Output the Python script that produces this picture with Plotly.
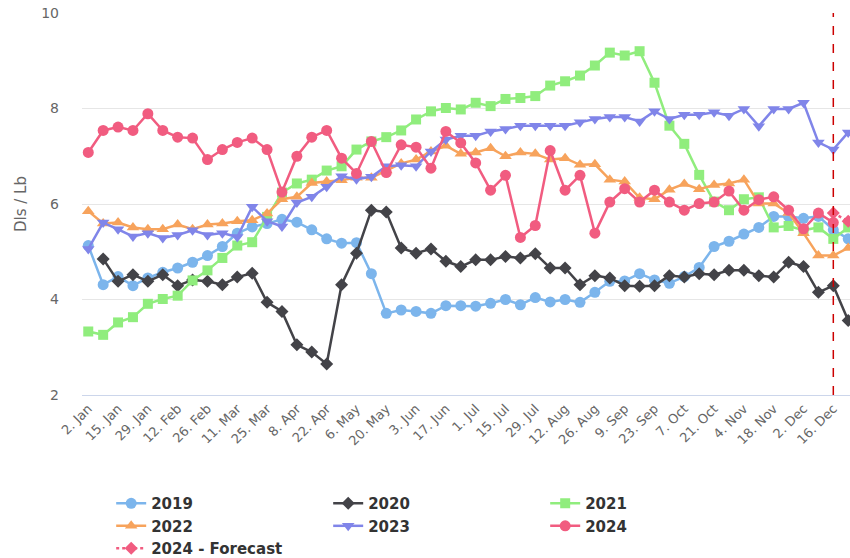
import plotly.graph_objects as go

# weekly categories (2024 calendar), label shown every 2nd week
weeks = ["2. Jan", "8. Jan", "15. Jan", "22. Jan", "29. Jan", "5. Feb", "12. Feb", "19. Feb",
         "26. Feb", "4. Mar", "11. Mar", "18. Mar", "25. Mar", "1. Apr", "8. Apr", "15. Apr",
         "22. Apr", "29. Apr", "6. May", "13. May", "20. May", "27. May", "3. Jun", "10. Jun",
         "17. Jun", "24. Jun", "1. Jul", "8. Jul", "15. Jul", "22. Jul", "29. Jul", "5. Aug",
         "12. Aug", "19. Aug", "26. Aug", "2. Sep", "9. Sep", "16. Sep", "23. Sep", "30. Sep",
         "7. Oct", "14. Oct", "21. Oct", "28. Oct", "4. Nov", "11. Nov", "18. Nov", "25. Nov",
         "2. Dec", "9. Dec", "16. Dec", "23. Dec", "30. Dec"]

y2019 = [5.13, 4.31, 4.48, 4.29, 4.45, 4.57, 4.66, 4.78, 4.92, 5.11, 5.39, 5.52, 5.59, 5.68, 5.62, 5.46,
         5.27, 5.18, 5.19, 4.54, 3.71, 3.78, 3.75, 3.71, 3.87, 3.87, 3.86, 3.92, 4.00, 3.89, 4.04, 3.95,
         4.00, 3.94, 4.15, 4.38, 4.39, 4.54, 4.41, 4.34, 4.48, 4.67, 5.11, 5.22, 5.37, 5.51, 5.74, 5.74,
         5.70, 5.74, 5.46, 5.27]
y2020 = [None, 4.85, 4.38, 4.52, 4.38, 4.52, 4.29, 4.41, 4.38, 4.31, 4.47, 4.55, 3.94, 3.75, 3.05, 2.90,
         2.65, 4.31, 4.97, 5.87, 5.83, 5.08, 4.97, 5.06, 4.80, 4.69, 4.83, 4.83, 4.90, 4.87, 4.96, 4.66,
         4.66, 4.31, 4.50, 4.45, 4.29, 4.28, 4.29, 4.50, 4.47, 4.54, 4.52, 4.61, 4.61, 4.50, 4.47, 4.78,
         4.69, 4.15, 4.29, 3.56]
y2021 = [3.33, 3.26, 3.52, 3.63, 3.91, 4.01, 4.08, 4.40, 4.61, 4.87, 5.13, 5.20, 5.73, 6.24, 6.43, 6.51,
         6.70, 6.79, 7.14, 7.31, 7.40, 7.54, 7.77, 7.94, 8.01, 7.98, 8.12, 8.05, 8.20, 8.22, 8.26, 8.48,
         8.57, 8.69, 8.90, 9.17, 9.11, 9.20, 8.54, 7.64, 7.26, 6.61, 6.05, 5.87, 6.10, 6.14, 5.51, 5.54,
         5.45, 5.51, 5.27, 5.51]
y2022 = [5.85, 5.59, 5.61, 5.51, 5.47, 5.47, 5.57, 5.47, 5.57, 5.59, 5.64, 5.66, 5.80, 6.10, 6.15, 6.44,
         6.47, 6.50, 6.55, 6.55, 6.70, 6.85, 6.93, 7.10, 7.22, 7.05, 7.08, 7.17, 7.00, 7.08, 7.05, 6.93,
         6.96, 6.82, 6.83, 6.51, 6.47, 6.13, 6.10, 6.30, 6.42, 6.31, 6.40, 6.43, 6.51, 6.01, 6.01, 5.81,
         5.39, 4.92, 4.92, 5.08]
y2023 = [5.06, 5.61, 5.47, 5.32, 5.39, 5.29, 5.35, 5.45, 5.35, 5.39, 5.31, 5.94, 5.64, 5.53, 6.03, 6.15,
         6.36, 6.58, 6.52, 6.57, 6.79, 6.81, 6.79, 7.10, 7.35, 7.43, 7.43, 7.52, 7.57, 7.64, 7.64, 7.64,
         7.64, 7.71, 7.78, 7.82, 7.82, 7.73, 7.94, 7.78, 7.87, 7.87, 7.92, 7.85, 7.99, 7.63, 7.99, 7.99,
         8.12, 7.29, 7.14, 7.50]
y2024 = [7.08, 7.54, 7.61, 7.54, 7.89, 7.54, 7.40, 7.38, 6.93, 7.14, 7.29, 7.38, 7.14, 6.25, 7.00, 7.40,
         7.54, 6.96, 6.64, 7.31, 6.66, 7.24, 7.19, 6.75, 7.52, 7.28, 6.86, 6.29, 6.60, 5.30, 5.55, 7.12,
         6.29, 6.60, 5.39, 6.04, 6.32, 6.04, 6.29, 6.04, 5.87, 6.01, 6.04, 6.27, 5.87, 6.09, 6.15, 5.87,
         5.48, 5.81, 5.61]
forecast_weeks = ["16. Dec", "23. Dec"]
y2024_forecast = [5.81, 5.64]
current_week = "16. Dec"

series = [
    ("2019", y2019, "#7cb5ec", "circle", 11),
    ("2020", y2020, "#434348", "diamond", 10),
    ("2021", y2021, "#90ed7d", "square", 10),
    ("2022", y2022, "#f7a35c", "triangle-up", 11),
    ("2023", y2023, "#8085e9", "triangle-down", 11),
    ("2024", y2024, "#f15c80", "circle", 11),
]

fig = go.Figure()

for name, vals, color, symbol, size in series:
    fig.add_trace(go.Scatter(
        x=weeks[:len(vals)], y=vals, name=name, mode="lines+markers",
        line=dict(color=color, width=2.5),
        marker=dict(color=color, symbol=symbol, size=size),
        connectgaps=False,
    ))

fig.add_trace(go.Scatter(
    x=forecast_weeks, y=y2024_forecast, name="2024 - Forecast", mode="lines+markers",
    line=dict(color="#f15c80", width=2.5, dash="dot"),
    marker=dict(color="#f15c80", symbol="diamond", size=10),
))

# current week marker
fig.add_shape(type="line", xref="x", yref="paper", x0=current_week, x1=current_week, y0=0, y1=1,
              line=dict(color="#cc0000", width=1.5, dash="dash"))

fig.update_layout(
    width=850, height=558,
    margin=dict(l=82, r=0, t=13, b=163, autoexpand=False),
    paper_bgcolor="white", plot_bgcolor="white",
    font=dict(family="DejaVu Sans", color="#666666"),
    showlegend=True,
    legend=dict(
        orientation="h", x=0.038, xanchor="left", y=-0.241, yanchor="top",
        font=dict(size=15, color="#333333", weight="bold"),
        entrywidth=172, tracegroupgap=0, itemwidth=30,
    ),
)

fig.update_xaxes(
    type="category", categoryorder="array", categoryarray=weeks,
    range=[-0.42, 51.12], automargin=False,
    tickmode="array", tickvals=weeks[::2], ticktext=weeks[::2],
    tickangle=-45, tickfont=dict(size=13, color="#666666"),
    showgrid=False, showline=True, linecolor="#ccd6eb", linewidth=1,
    ticks="", zeroline=False,
)

fig.update_yaxes(
    range=[2, 10], dtick=2, tick0=2, automargin=False,
    showgrid=True, gridcolor="#e6e6e6", gridwidth=1,
    zeroline=False, showline=False,
    tickfont=dict(size=14, color="#666666"),
    ticklabelstandoff=22,
    title=dict(text="Dls / Lb", font=dict(size=15, color="#666666"), standoff=10),
)

# drop the page's default body margin so the figure sits at the window origin
fig.write_html("out.html", config={"displayModeBar": False},
               post_script="document.body.style.margin = '0';")
